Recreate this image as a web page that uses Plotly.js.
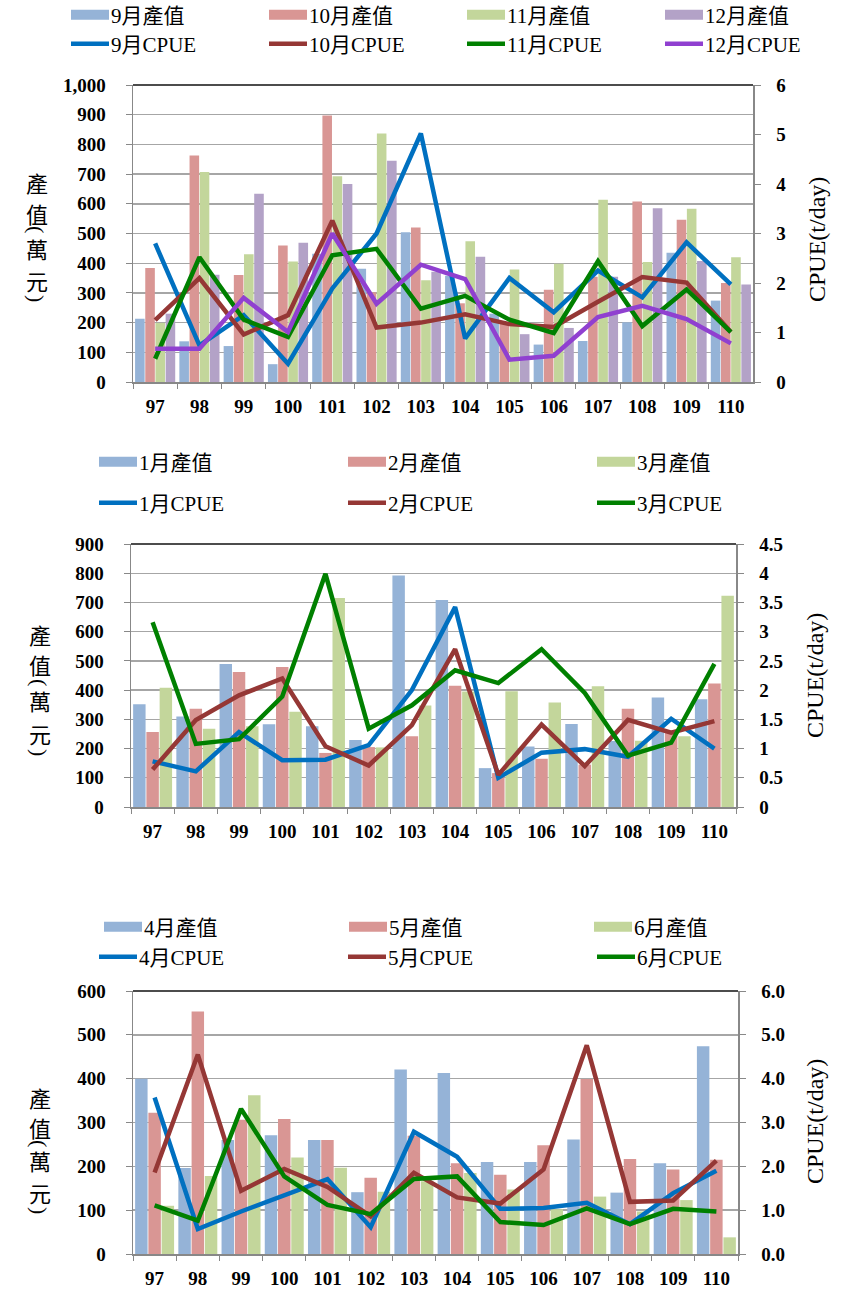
<!DOCTYPE html>
<html><head><meta charset="utf-8">
<script src="https://cdn.plot.ly/plotly-3.0.1.min.js"></script>
<style>html,body{margin:0;padding:0;background:#fff;}#chart{width:854px;height:1290px;}</style>
</head><body><div id="chart"></div>
<script>
// ---------- data ----------
const years = ['97','98','99','100','101','102','103','104','105','106','107','108','109','110'];

// panel 1 : Sep - Dec
const prod9  = [213, 137, 121, 60, 432, 381, 504, 358, 230, 126, 138, 201, 435, 274];
const prod10 = [384, 763, 360, 460, 897, 302, 520, 265, 198, 311, 354, 608, 546, 333];
const prod11 = [199, 707, 430, 406, 693, 837, 343, 474, 379, 398, 614, 404, 583, 420];
const prod12 = [230, 361, 634, 469, 667, 745, 371, 422, 161, 182, 354, 585, 407, 328];
const cpue9  = [2.80, 0.74, 1.35, 0.37, 1.89, 3.00, 5.02, 0.88, 2.10, 1.41, 2.25, 1.71, 2.82, 1.97];
const cpue10 = [1.25, 2.10, 0.96, 1.35, 3.26, 1.10, 1.20, 1.37, 1.17, 1.11, 1.62, 2.12, 2.01, 1.01];
const cpue11 = [0.47, 2.52, 1.26, 0.91, 2.56, 2.69, 1.48, 1.74, 1.26, 0.99, 2.44, 1.13, 1.87, 1.01];
const cpue12 = [0.67, 0.67, 1.70, 1.01, 3.00, 1.58, 2.37, 2.08, 0.45, 0.53, 1.31, 1.54, 1.27, 0.78];

// panel 2 : Jan - Mar
const prod1 = [352, 310, 489, 283, 276, 229, 792, 708, 133, 207, 284, 226, 375, 369];
const prod2 = [257, 336, 462, 479, 185, 205, 242, 415, 116, 165, 145, 336, 253, 423];
const prod3 = [408, 268, 276, 326, 715, 204, 347, 395, 396, 358, 413, 227, 242, 723];
const cpue1 = [0.78, 0.61, 1.28, 0.80, 0.81, 1.06, 2.00, 3.42, 0.50, 0.93, 0.99, 0.86, 1.51, 1.00];
const cpue2 = [0.64, 1.49, 1.91, 2.20, 1.04, 0.71, 1.40, 2.70, 0.55, 1.41, 0.70, 1.49, 1.27, 1.47];
const cpue3 = [3.16, 1.08, 1.16, 1.89, 3.99, 1.34, 1.74, 2.34, 2.12, 2.70, 1.95, 0.88, 1.10, 2.45];

// panel 3 : Apr - Jun
const prod4 = [400, 196, 260, 271, 260, 141, 421, 413, 210, 210, 261, 140, 207, 474];
const prod5 = [322, 553, 306, 308, 260, 174, 270, 207, 181, 248, 399, 217, 193, 215];
const prod6 = [110, 178, 362, 220, 197, 142, 166, 185, 147, 102, 131, 97, 123, 38];
const cpue4 = [3.57, 0.57, 0.97, 1.33, 1.71, 0.61, 2.79, 2.22, 1.03, 1.05, 1.17, 0.68, 1.39, 1.90];
const cpue5 = [1.86, 4.55, 1.44, 1.94, 1.53, 0.86, 1.85, 1.29, 1.15, 1.93, 4.76, 1.19, 1.22, 2.13];
const cpue6 = [1.11, 0.76, 3.31, 1.77, 1.12, 0.91, 1.71, 1.77, 0.73, 0.66, 1.04, 0.68, 1.03, 0.97];

const prodLabel = '產值';
const cpueLabel = 'CPUE';

// ---------- styling ----------
const W = 854, H = 1290;
const px = x => x / W;
const py = y => 1 - y / H;
const barCols = ['#95B3D7', '#D99694', '#C3D69B', '#B3A2C7'];
const lineCols = ['#0070C0', '#953735', '#008000', '#9040D0'];
const serif = 'Liberation Serif, Times New Roman, Noto Sans CJK TC, serif';
const legFont = {family: serif, size: 21, color: '#000'};
const tickFont = {family: serif, size: 19, color: '#000', weight: 'bold'};

const traces = [];
function addPanel(months, prods, cpues, xa, ya, ya2, legA, legB) {
  const n = months.length;
  months.forEach((m, i) => {
    const t = {type: 'bar', x: years, y: prods[i], name: m + '月' + prodLabel,
      marker: {color: barCols[i]}, xaxis: xa, yaxis: ya, legend: legA, hoverinfo: 'y+name'};
    if (i === n - 1) t.legendwidth = 100;
    traces.push(t);
  });
  months.forEach((m, i) => {
    const t = {type: 'scatter', mode: 'lines', x: years, y: cpues[i], name: m + '月' + cpueLabel,
      line: {color: lineCols[i], width: 4.5}, xaxis: xa, yaxis: ya2, legend: legB};
    if (i === n - 1) t.legendwidth = 110;
    traces.push(t);
  });
}
addPanel(['9','10','11','12'], [prod9, prod10, prod11, prod12], [cpue9, cpue10, cpue11, cpue12], 'x', 'y', 'y2', 'legend', 'legend2');
addPanel(['1','2','3'], [prod1, prod2, prod3], [cpue1, cpue2, cpue3], 'x2', 'y3', 'y4', 'legend3', 'legend4');
addPanel(['4','5','6'], [prod4, prod5, prod6], [cpue4, cpue5, cpue6], 'x3', 'y5', 'y6', 'legend5', 'legend6');

const panels = [
  {x0: 133, x1: 753, y0: 85, y1: 382, ymax: 1000, rmax: 6, rdt: 1, rfmt: ''},
  {x0: 131, x1: 736, y0: 544, y1: 807, ymax: 900, rmax: 4.5, rdt: 0.5, rfmt: ''},
  {x0: 133, x1: 738, y0: 991, y1: 1254, ymax: 600, rmax: 6, rdt: 1, rfmt: '.1f'}
];

const layout = {
  width: W, height: H, margin: {l: 0, r: 0, t: 0, b: 0, autoexpand: false},
  paper_bgcolor: '#fff', plot_bgcolor: '#fff',
  barmode: 'group', bargap: 0.08, bargroupgap: 0.06,
  showlegend: true, shapes: [], annotations: []
};

panels.forEach((p, k) => {
  const xn = k === 0 ? 'xaxis' : 'xaxis' + (k + 1);
  const xid = k === 0 ? 'x' : 'x' + (k + 1);
  const yl = 2 * k + 1, yr = 2 * k + 2;
  const ylName = yl === 1 ? 'yaxis' : 'yaxis' + yl;
  const ylId = yl === 1 ? 'y' : 'y' + yl;
  layout[xn] = {domain: [px(p.x0), px(p.x1)], anchor: ylId, type: 'category',
    tickson: 'boundaries', ticks: 'outside', ticklen: 5, tickcolor: '#888', tickwidth: 1,
    showline: true, linecolor: '#888', linewidth: 1.5, showgrid: false, automargin: false,
    tickfont: tickFont, ticklabelstandoff: 7, fixedrange: true};
  layout[ylName] = {domain: [py(p.y1), py(p.y0)], anchor: xid, range: [0, p.ymax], dtick: 100,
    tickformat: ',d', ticks: 'outside', ticklen: 6, tickcolor: '#888', showline: true,
    linecolor: '#888', linewidth: 1.5, showgrid: true, gridcolor: '#a6a6a6', gridwidth: 1.4,
    zeroline: false, tickfont: tickFont, ticklabelstandoff: 16, fixedrange: true, automargin: false};
  layout['yaxis' + yr] = {overlaying: ylId, side: 'right', anchor: xid, range: [0, p.rmax],
    dtick: p.rdt, tickformat: p.rfmt, ticks: 'outside', ticklen: 6, tickcolor: '#888',
    showline: true, linecolor: '#888', linewidth: 1.5, showgrid: false, zeroline: false,
    tickfont: tickFont, ticklabelstandoff: 12, fixedrange: true, automargin: false};
  layout.shapes.push({type: 'line', xref: xid + ' domain', yref: ylId + ' domain',
    x0: 0, x1: 1, y0: 1, y1: 1, line: {color: '#111', width: 1.5}});
});

// legends (one per row)
function leg(x, y, ew) {
  return {orientation: 'h', x: px(x), y: py(y), xanchor: 'left', yanchor: 'middle',
    entrywidth: ew, entrywidthmode: 'pixels', font: legFont, bgcolor: 'rgba(0,0,0,0)',
    traceorder: 'normal', itemwidth: 30, itemclick: false, itemdoubleclick: false};
}
layout.legend  = leg(71, 15, 153);
layout.legend2 = leg(71, 44, 153);
layout.legend3 = leg(99, 462, 204);
layout.legend4 = leg(99, 503, 204);
layout.legend5 = leg(104, 927, 200);
layout.legend6 = leg(99, 957, 204);

// axis titles
function vTitle(x, items) {
  items.forEach(([t, y, rot]) => {
    layout.annotations.push({text: t, x: px(x), y: py(y), xref: 'paper', yref: 'paper',
      showarrow: false, xanchor: 'center', yanchor: 'middle', textangle: rot || 0,
      font: {family: rot ? serif : 'Noto Sans CJK TC, sans-serif', size: 22, color: '#000'}});
  });
}
vTitle(37, [['產', 182], ['值', 213], ['(', 229, 90], ['萬', 248], ['元', 280], [')', 298, 90]]);
vTitle(40, [['產', 634], ['值', 664], ['(', 682, 90], ['萬', 700], ['元', 733], [')', 752, 90]]);
vTitle(40, [['產', 1097], ['值', 1127], ['(', 1143, 90], ['萬', 1160], ['元', 1192], [')', 1210, 90]]);

[[817, 240], [815, 676], [815, 1122]].forEach(([x, y]) => {
  layout.annotations.push({text: 'CPUE(t/day)', x: px(x), y: py(y), xref: 'paper', yref: 'paper',
    showarrow: false, textangle: -90, xanchor: 'center', yanchor: 'middle',
    font: {family: serif, size: 24, color: '#000'}});
});

Plotly.newPlot('chart', traces, layout, {displayModeBar: false, staticPlot: true}).then(() => {
  // widen legend swatches (Excel-like wide rectangles)
  document.querySelectorAll('.infolayer g.traces').forEach(g => {
    const t = g.querySelector('text.legendtext');
    const tx = t ? (parseFloat(t.getAttribute('x')) || 40) : 40;
    const end = tx - 2;
    const bar = g.querySelector('g.legendpoints path');
    if (bar) {
      bar.setAttribute('transform', '');
      bar.setAttribute('d', 'M0,-5H' + end + 'V5H0Z');
    }
    g.querySelectorAll('g.legendlines path').forEach(l => l.setAttribute('d', 'M0,0H' + end));
  });
});
</script>
</body></html>
